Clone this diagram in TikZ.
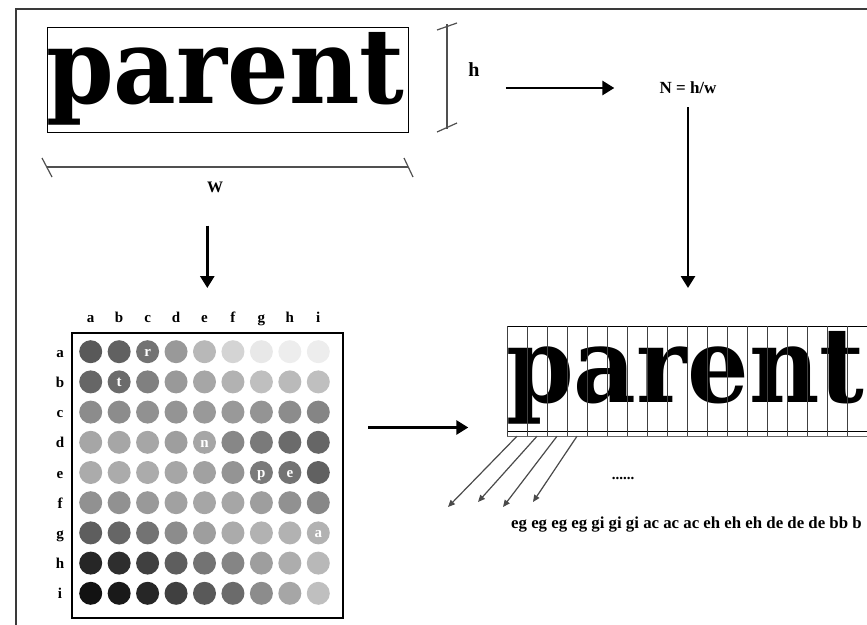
\documentclass[tikz,border=0pt]{standalone}
\usepackage{fontspec}
\setmainfont{Liberation Serif}
\newfontfamily\glyphfont{DejaVu Serif}
\usetikzlibrary{arrows.meta, positioning, calc}
\definecolor{mFrame}{HTML}{3A3A3A}
\definecolor{mDim}{HTML}{505050}
\definecolor{mCut}{HTML}{4A4A4A}
\newcommand{\wordimg}{\scalebox{1.02}[1.1]{\glyphfont\bfseries\fontsize{95}{95}\selectfont parent}}

\begin{document}
\begin{tikzpicture}[x=1pt, y=-1pt,
    lbl/.style={font=\bfseries\fontsize{15}{15}\selectfont, inner sep=0pt},
    bigarrow/.style={line width=2.8pt, -{Triangle[length=12pt, width=14pt]}},
    smallarrow/.style={line width=1.2pt, mCut, -{Triangle[length=7pt, width=6pt]}},
    dimline/.style={mDim, line width=1.2pt},
    wordframe/.style={draw, line width=1.2pt, minimum width=361pt, minimum height=105pt, inner sep=0pt}]
  \useasboundingbox (0,0) rectangle (867,624);
  \clip (0,0) rectangle (867,624);
  \draw[mFrame, line width=1.3pt] (16,650) -- (16,9) -- (890,9);

  % the word and its size
  \node[wordframe, anchor=north west] (wordbox) at (47,27) {};
  \node[anchor=base west, inner sep=0pt] (word) at (46,103) {\wordimg};
  \draw[dimline] (447,24) -- (447,129);
  \draw[dimline] (437,30) -- (457,23);
  \draw[dimline] (437,132) -- (457,123);
  \draw[dimline] (47,167) -- (408,167);
  \draw[dimline] (42,158) -- (52,177);
  \draw[dimline] (404,158) -- (413,177);
  \node[lbl, font=\bfseries\fontsize{20}{20}\selectfont] (hlabel) at (474,70) {h};
  \node[lbl, font=\bfseries\fontsize{16}{16}\selectfont] (wlabel) at (215,187) {W};
  \node[lbl, font=\bfseries\fontsize{17}{17}\selectfont] (ratio) at (688,88) {N = h/w};

  % grey level grid
  \foreach \shades [count=\r from 0] in {{65,62,55,40,28,17,9,7,7},
      {60,58,50,40,35,30,25,27,25}, {45,45,43,42,40,40,42,45,48},
      {35,35,35,38,35,47,52,58,60}, {33,33,33,35,37,42,52,55,62},
      {43,43,40,37,35,35,38,43,47}, {63,60,55,45,38,33,30,30,30},
      {85,82,75,63,55,48,38,32,28}, {93,90,85,75,65,58,45,35,25}} {
    \foreach \s [count=\c from 0] in \shades
      \fill[black!\s] (90.7+28.45*\c, 351.7+30.2*\r) circle[radius=11.5pt];
  }
  \foreach \l [count=\c from 0] in {a,...,i} {
    \node[lbl, anchor=base] (col\l) at (90.7+28.45*\c, 322) {\l};
    \node[lbl, anchor=base] (row\l) at (60, 357.2+30.2*\c) {\l};
  }
  \foreach \l/\c/\r in {r/2/0, t/1/1, n/4/3, p/6/4, e/7/4, a/8/6}
    \node[lbl, white, anchor=base] (in\l) at (90.7+28.45*\c, 356.7+30.2*\r) {\l};
  \node[draw, line width=1.6pt, minimum width=271pt, minimum height=285pt,
    inner sep=0pt, anchor=north west] (grid) at (71,332) {};

  % the word cut in strips
  \node[wordframe, anchor=north west] (strip) at (507,326) {};
  \node[anchor=base west, inner sep=0pt] (word2) at (506,402) {\wordimg};
  \foreach \k in {0,...,17}
    \draw[black!75, line width=0.9pt] ($(strip.north west)+(20*\k,0)$) -- ($(strip.south west)+(20*\k,4)$);
  \draw[black!60, line width=0.9pt] ($(strip.south west)+(0,4)$) -- ($(strip.south east)+(0,4)$);
  \foreach \k/\ex/\ey in {1/448/507, 2/478/502, 3/503/507, 4/533/502} {
    \coordinate (cut\k) at (\ex,\ey);
    \draw[smallarrow] ($(strip.south west)+(20*\k-10,4)$) -- (cut\k);
  }
  \node[lbl, anchor=base] (dots) at (623,479) {......};
  \node[lbl, font=\bfseries\fontsize{16.8}{17}\selectfont, anchor=base west] (codes) at (511,528)
    {eg eg eg eg gi gi gi ac ac ac eh eh eh de de de bb b};

  % arrows
  \draw[bigarrow, shorten <=26pt, shorten >=45pt] (hlabel.east |- ratio.west) -- (ratio.west);
  \draw[bigarrow, shorten <=13pt, shorten >=38pt] (ratio.south) -- (ratio.south |- strip.north);
  \draw[bigarrow, shorten <=33pt, shorten >=44pt] (wlabel.south -| grid.north) -- (grid.north);
  \coordinate (gs) at ($(grid.east)+(0,-47.8)$);
  \draw[bigarrow, shorten <=24.7pt, shorten >=38.7pt] (gs) -- (gs -| strip.west);
\end{tikzpicture}
\end{document}
